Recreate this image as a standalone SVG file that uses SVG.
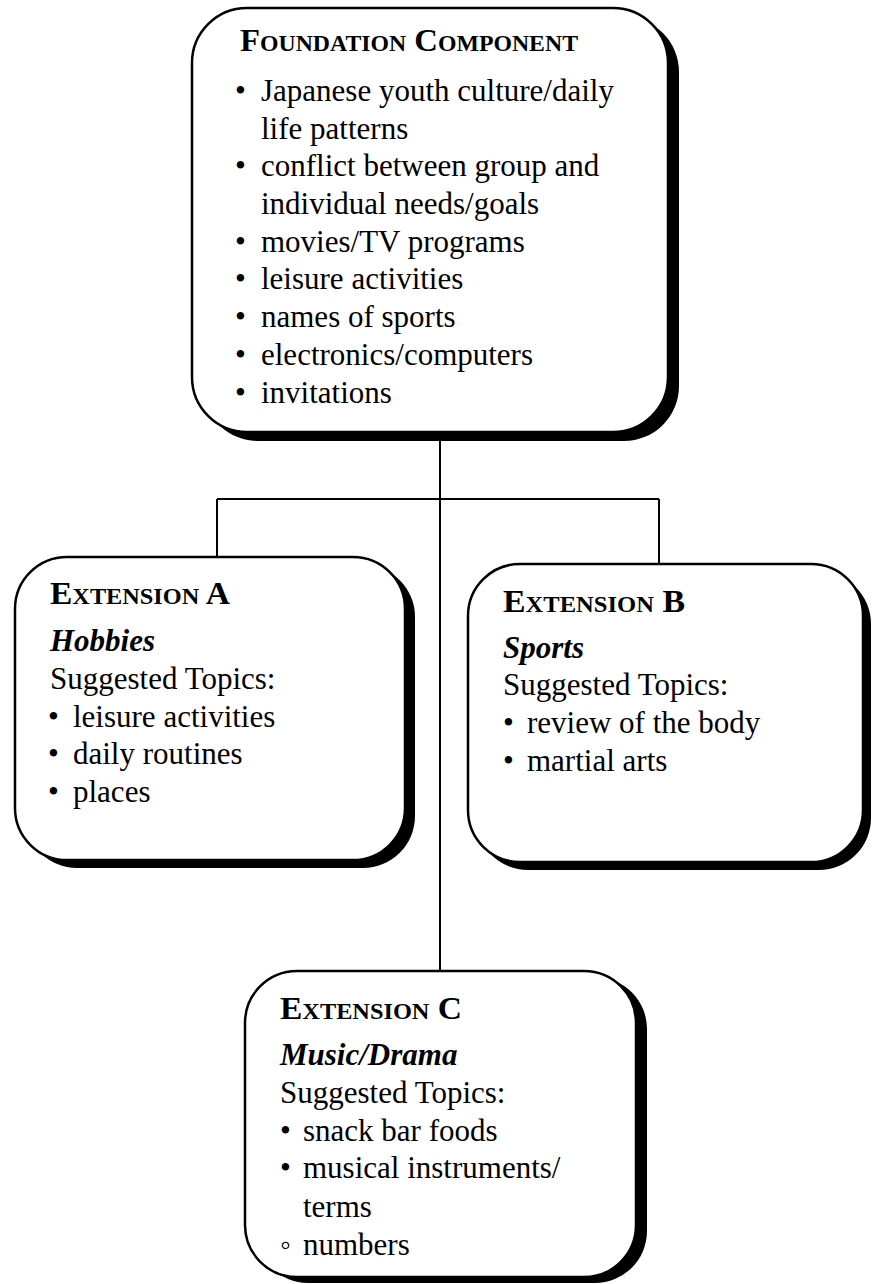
<svg xmlns="http://www.w3.org/2000/svg" width="873" height="1284" viewBox="0 0 873 1284">
  <style>
    .shadow { fill: #000; }
    .card { fill: #fff; stroke: #000; stroke-width: 2.5; }
    .wire { fill: none; stroke: #000; stroke-width: 2; }
    text { font-family: "Liberation Serif", "Times New Roman", serif; fill: #000; font-size: 31px; }
    .head { font-weight: bold; }
    .sc { font-size: 22.5px; }
    .sub { font-weight: bold; font-style: italic; }
  </style>
  <rect width="873" height="1284" fill="#fff"/>

  <!-- connectors: trunk, branch bar and drops -->
  <g id="connectors">
    <path class="wire" d="M440 440 V971"/>
    <path class="wire" d="M217 499 H659"/>
    <path class="wire" d="M217 499 V557"/>
    <path class="wire" d="M659 499 V564"/>
  </g>

  <!-- foundation component -->
  <g id="foundation">
    <rect class="shadow" x="203" y="17" width="476" height="424" rx="55"/>
    <rect class="card" x="192" y="8" width="476" height="424" rx="55"/>
    <text class="head" x="240" y="51" textLength="338" lengthAdjust="spacingAndGlyphs">F<tspan class="sc">OUNDATION</tspan> C<tspan class="sc">OMPONENT</tspan></text>
    <text x="235" y="101">•<tspan x="261">Japanese youth culture/daily</tspan></text>
    <text x="261" y="139">life patterns</text>
    <text x="235" y="176">•<tspan x="261">conflict between group and</tspan></text>
    <text x="261" y="214">individual needs/goals</text>
    <text x="235" y="252">•<tspan x="261">movies/TV programs</tspan></text>
    <text x="235" y="289">•<tspan x="261">leisure activities</tspan></text>
    <text x="235" y="327">•<tspan x="261">names of sports</tspan></text>
    <text x="235" y="365">•<tspan x="261">electronics/computers</tspan></text>
    <text x="235" y="403">•<tspan x="261">invitations</tspan></text>
  </g>

  <!-- extension A -->
  <g id="extension-a">
    <rect class="shadow" x="25" y="565" width="390" height="303" rx="52"/>
    <rect class="card" x="15" y="557" width="390" height="303" rx="52"/>
    <text class="head" x="50" y="604" textLength="180" lengthAdjust="spacingAndGlyphs">E<tspan class="sc">XTENSION</tspan> A</text>
    <text class="sub" x="50" y="651">Hobbies</text>
    <text x="50" y="689">Suggested Topics:</text>
    <text x="48" y="727">•<tspan x="73">leisure activities</tspan></text>
    <text x="48" y="764">•<tspan x="73">daily routines</tspan></text>
    <text x="48" y="802">•<tspan x="73">places</tspan></text>
  </g>

  <!-- extension B -->
  <g id="extension-b">
    <rect class="shadow" x="476" y="572" width="395" height="298" rx="52"/>
    <rect class="card" x="468" y="564" width="395" height="298" rx="52"/>
    <text class="head" x="503" y="612" textLength="182" lengthAdjust="spacingAndGlyphs">E<tspan class="sc">XTENSION</tspan> B</text>
    <text class="sub" x="503" y="658">Sports</text>
    <text x="503" y="695">Suggested Topics:</text>
    <text x="503" y="733">•<tspan x="527">review of the body</tspan></text>
    <text x="503" y="771">•<tspan x="527">martial arts</tspan></text>
  </g>

  <!-- extension C -->
  <g id="extension-c">
    <rect class="shadow" x="256" y="977" width="391" height="306" rx="52"/>
    <rect class="card" x="245" y="971" width="391" height="306" rx="52"/>
    <text class="head" x="280" y="1019" textLength="182" lengthAdjust="spacingAndGlyphs">E<tspan class="sc">XTENSION</tspan> C</text>
    <text class="sub" x="280" y="1065">Music/Drama</text>
    <text x="280" y="1103">Suggested Topics:</text>
    <text x="280" y="1141">•<tspan x="303">snack bar foods</tspan></text>
    <text x="280" y="1178">•<tspan x="303">musical instruments/</tspan></text>
    <text x="303" y="1217">terms</text>
    <text x="280" y="1255">◦<tspan x="303">numbers</tspan></text>
  </g>
</svg>
